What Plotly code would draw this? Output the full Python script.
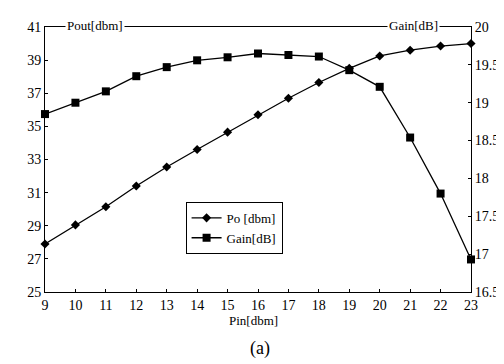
import plotly.graph_objects as go

pin = [9, 10, 11, 12, 13, 14, 15, 16, 17, 18, 19, 20, 21, 22, 23]
po_dbm = [27.9, 29.05, 30.15, 31.4, 32.55, 33.6, 34.65, 35.7, 36.7, 37.65, 38.5, 39.25, 39.6, 39.85, 40.0]
gain_db = [18.85, 19.0, 19.15, 19.35, 19.47, 19.56, 19.6, 19.65, 19.63, 19.61, 19.43, 19.21, 18.54, 17.8, 16.93]
x_ticks = list(range(9, 24))
left_ticks = [25, 27, 29, 31, 33, 35, 37, 39, 41]
right_ticks = [16.5, 17, 17.5, 18, 18.5, 19, 19.5, 20]
right_labels = ["16.5", "17", "17.5", "18", "18.5", "19", "19.5", "20"]

FONT = "Liberation Serif"

fig = go.Figure()
fig.add_trace(go.Scatter(
    x=pin, y=po_dbm, name="Po [dbm]", mode="lines+markers",
    line=dict(color="black", width=1.3),
    marker=dict(symbol="diamond", size=7, color="black"),
    cliponaxis=False,
))
fig.add_trace(go.Scatter(
    x=pin, y=gain_db, name="Gain[dB]", mode="lines+markers", yaxis="y2",
    line=dict(color="black", width=1.3),
    marker=dict(symbol="square", size=8, color="black"),
    cliponaxis=False,
))

axis_common = dict(showgrid=False, zeroline=False, showline=True, linecolor="black",
                   linewidth=1, ticks="inside", ticklen=3, tickcolor="black",
                   tickfont=dict(family=FONT, size=14, color="black"))

fig.update_layout(
    width=504, height=364,
    margin=dict(l=37, r=41, t=17, b=80),
    paper_bgcolor="white", plot_bgcolor="white",
    font=dict(family=FONT, color="black"),
    xaxis=dict(range=[9, 23], tickvals=x_ticks, mirror=True, **axis_common),
    yaxis=dict(range=[25, 41], tickvals=left_ticks, **axis_common),
    yaxis2=dict(range=[16.5, 20], tickvals=right_ticks, ticktext=right_labels,
                overlaying="y", side="right", **axis_common),
    showlegend=True,
    legend=dict(x=0.33, y=0.34, xanchor="left", yanchor="top",
                bordercolor="black", borderwidth=1, bgcolor="white",
                font=dict(family=FONT, size=13, color="black"),
                itemwidth=30, tracegroupgap=0),
    annotations=[
        dict(text="Pout[dbm]", x=0.117, y=1.0, xref="paper", yref="paper",
             xanchor="center", yanchor="bottom", showarrow=False,
             font=dict(family=FONT, size=13), bgcolor="white", yshift=-8),
        dict(text="Gain[dB]", x=0.865, y=1.0, xref="paper", yref="paper",
             xanchor="center", yanchor="bottom", showarrow=False,
             font=dict(family=FONT, size=13), bgcolor="white", yshift=-8),
        dict(text="Pin[dbm]", x=0.49, y=0, xref="paper", yref="paper",
             xanchor="center", yanchor="top", showarrow=False,
             font=dict(family=FONT, size=13), yshift=-19),
        dict(text="(a)", x=0.505, y=0, xref="paper", yref="paper",
             xanchor="center", yanchor="top", showarrow=False,
             font=dict(family=FONT, size=18), yshift=-44),
    ],
)

fig.write_html("out.html")
